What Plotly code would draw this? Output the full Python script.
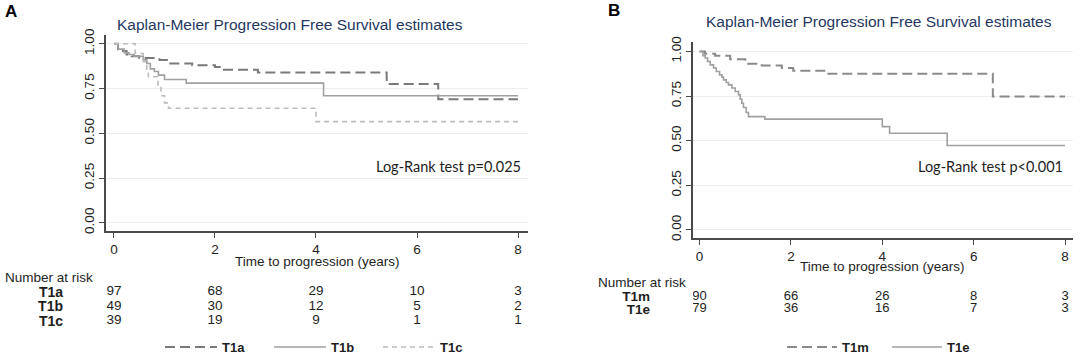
import plotly.graph_objects as go

# ---------------- Panel A data (Kaplan-Meier steps) ----------------
a_time_t1a = [0, 0.08, 0.15, 0.25, 0.35, 0.5, 0.9, 1.05, 1.55, 2.0, 2.15, 2.85, 5.4, 6.42, 8.0]
a_surv_t1a = [1.0, 0.97, 0.96, 0.94, 0.93, 0.92, 0.91, 0.89, 0.88, 0.87, 0.855, 0.84, 0.775, 0.69, 0.69]

a_time_t1b = [0, 0.08, 0.2, 0.3, 0.4, 0.58, 0.65, 0.72, 0.8, 0.88, 1.0, 1.43, 4.15, 8.0]
a_surv_t1b = [1.0, 0.97, 0.95, 0.94, 0.93, 0.91, 0.89, 0.86, 0.845, 0.825, 0.80, 0.78, 0.71, 0.71]

a_time_t1c = [0, 0.42, 0.58, 0.65, 0.68, 0.87, 0.93, 1.0, 1.08, 4.0, 8.0]
a_surv_t1c = [1.0, 0.946, 0.90, 0.853, 0.816, 0.76, 0.71, 0.67, 0.64, 0.565, 0.565]

# ---------------- Panel B data ----------------
b_time_t1m = [0, 0.12, 0.34, 0.67, 1.0, 1.36, 1.8, 2.05, 2.78, 6.42, 8.0]
b_surv_t1m = [1.0, 0.987, 0.976, 0.957, 0.931, 0.922, 0.907, 0.892, 0.875, 0.748, 0.748]

b_time_t1e = [0, 0.074, 0.124, 0.175, 0.234, 0.306, 0.365, 0.437, 0.489, 0.524, 0.583, 0.633,
              0.707, 0.78, 0.852, 0.889, 0.925, 0.961, 1.02, 1.07, 1.43, 4.0, 4.16, 5.42, 8.0]
b_surv_t1e = [1.0, 0.976, 0.963, 0.944, 0.925, 0.907, 0.888, 0.869, 0.856, 0.841, 0.826, 0.813,
              0.795, 0.776, 0.757, 0.733, 0.71, 0.686, 0.658, 0.635, 0.621, 0.579, 0.542, 0.473, 0.473]

# ---------------- Number at risk ----------------
risk_times = [0, 2, 4, 6, 8]
a_groups = ["T1a", "T1b", "T1c"]
a_risk_t1a = [97, 68, 29, 10, 3]
a_risk_t1b = [49, 30, 12, 5, 2]
a_risk_t1c = [39, 19, 9, 1, 1]
b_groups = ["T1m", "T1e"]
b_risk_t1m = [90, 66, 26, 8, 3]
b_risk_t1e = [79, 36, 16, 7, 3]

x_ticks = [0, 2, 4, 6, 8]
y_ticks = [0, 0.25, 0.5, 0.75, 1.0]
y_ticktext = ["0.00", "0.25", "0.50", "0.75", "1.00"]

title_text = "Kaplan-Meier Progression Free Survival estimates"
xtitle_text = "Time to progression (years)"

W, H = 1084, 358
def px(x):
    return x / W
def py(y):
    return 1 - y / H

AX = "#4a4a4a"
TXT = "#1e1e1e"
FONT = "Liberation Sans, Arial, sans-serif"

fig = go.Figure()

def km(x, y, name, color, dash, width, xa, ya, legend):
    fig.add_trace(go.Scatter(x=x, y=y, mode="lines", line_shape="hv", name=name,
                             line=dict(color=color, dash=dash, width=width),
                             xaxis=xa, yaxis=ya, legend=legend))

km(a_time_t1a, a_surv_t1a, "T1a", "#7a7a7a", "10px,5px", 2, "x", "y", "legend")
km(a_time_t1b, a_surv_t1b, "T1b", "#a0a0a0", "solid", 1.6, "x", "y", "legend")
km(a_time_t1c, a_surv_t1c, "T1c", "#bdbdbd", "5px,4px", 1.6, "x", "y", "legend")
km(b_time_t1m, b_surv_t1m, "T1m", "#8a8a8a", "10px,5px", 2, "x2", "y2", "legend2")
km(b_time_t1e, b_surv_t1e, "T1e", "#a0a0a0", "solid", 1.6, "x2", "y2", "legend2")

def risk(vals, grp, xa, ya, size):
    fig.add_trace(go.Scatter(x=risk_times, y=[grp] * len(vals), text=[str(v) for v in vals],
                             mode="text", textposition="middle center",
                             textfont=dict(size=size, color=TXT, family=FONT),
                             showlegend=False, xaxis=xa, yaxis=ya, hoverinfo="skip"))

risk(a_risk_t1a, "T1a", "x3", "y3", 13.5)
risk(a_risk_t1b, "T1b", "x3", "y3", 13.5)
risk(a_risk_t1c, "T1c", "x3", "y3", 13.5)
risk(b_risk_t1m, "T1m", "x4", "y4", 13)
risk(b_risk_t1e, "T1e", "x4", "y4", 13)

# ---- geometry (pixels) ----
a_dom_x = [px(106), px(528)]
a_rng_x = [-0.158, 8.198]
a_dom_y = [py(231), py(35)]
a_rng_y = [-0.046, 1.049]

b_dom_x = [px(693), px(1073)]
b_rng_x = [-0.144, 8.175]
b_dom_y = [py(238), py(42)]
b_rng_y = [-0.045, 1.053]

def main_x(dom, rng, anchor):
    return dict(domain=dom, range=rng, anchor=anchor, tickmode="array", tickvals=x_ticks,
                ticks="outside", ticklen=5, tickwidth=1.3, tickcolor=AX, automargin=False,
                showline=True, linecolor=AX, linewidth=1.6, showgrid=False, zeroline=False,
                tickfont=dict(size=13.5, color=TXT, family=FONT))

def main_y(dom, rng, anchor):
    return dict(domain=dom, range=rng, anchor=anchor, tickmode="array",
                tickvals=y_ticks, ticktext=y_ticktext, automargin=False,
                tickangle=-90, ticks="outside", ticklen=5, tickwidth=1.3, tickcolor=AX,
                showline=True, linecolor=AX, linewidth=1.6, showgrid=True,
                gridcolor="#eeeeee", gridwidth=1, zeroline=False,
                tickfont=dict(size=13.5, color=TXT, family=FONT))

def table_x(dom, rng, anchor):
    return dict(domain=dom, range=rng, anchor=anchor, visible=False, automargin=False)

def table_y(dom, cats, anchor, standoff, size):
    n = len(cats)
    return dict(domain=dom, anchor=anchor, type="category", categoryorder="array",
                categoryarray=list(reversed(cats)), range=[-0.5, n - 0.5],
                tickmode="array", tickvals=cats, ticktext=cats, automargin=False,
                showline=False, showgrid=False, zeroline=False, ticks="",
                ticklabelstandoff=standoff,
                tickfont=dict(size=size, color=TXT, family=FONT, weight="bold"))

a_row = 14.5
a_mid = 306.5
b_row = 12.3
b_mid = 302.9

fig.update_layout(
    template="none",
    width=W, height=H, margin=dict(l=0, r=0, t=0, b=0, autoexpand=False),
    paper_bgcolor="white", plot_bgcolor="white",
    font=dict(family=FONT, color=TXT),
    xaxis=main_x(a_dom_x, a_rng_x, "y"),
    yaxis=main_y(a_dom_y, a_rng_y, "x"),
    xaxis2=main_x(b_dom_x, b_rng_x, "y2"),
    yaxis2=main_y(b_dom_y, b_rng_y, "x2"),
    xaxis3=table_x(a_dom_x, a_rng_x, "y3"),
    yaxis3=table_y([py(a_mid + 1.5 * a_row), py(a_mid - 1.5 * a_row)], a_groups, "x3", 42, 14),
    xaxis4=table_x(b_dom_x, b_rng_x, "y4"),
    yaxis4=table_y([py(b_mid + b_row), py(b_mid - b_row)], b_groups, "x4", 42, 13.5),
    legend=dict(orientation="h", x=px(160), y=py(347), xanchor="left", yanchor="middle",
                font=dict(size=13, color=TXT, family=FONT, weight="bold"),
                itemwidth=52, entrywidth=42, bgcolor="rgba(0,0,0,0)", borderwidth=0),
    legend2=dict(orientation="h", x=px(782), y=py(347), xanchor="left", yanchor="middle",
                 font=dict(size=13, color=TXT, family=FONT, weight="bold"),
                 itemwidth=50, entrywidth=40, bgcolor="rgba(0,0,0,0)", borderwidth=0),
    showlegend=True,
)

ann = [
    dict(text="A", x=px(3), y=py(11), xanchor="left", yanchor="middle",
         font=dict(size=17, color="#000", family=FONT, weight="bold")),
    dict(text="B", x=px(606), y=py(10), xanchor="left", yanchor="middle",
         font=dict(size=17, color="#000", family=FONT, weight="bold")),
    dict(text=title_text, x=px(290), y=py(24), xanchor="center", yanchor="middle",
         font=dict(size=15.5, color="#26375f", family=FONT)),
    dict(text=title_text, x=px(879), y=py(21.5), xanchor="center", yanchor="middle",
         font=dict(size=15.5, color="#26375f", family=FONT)),
    dict(text="Log-Rank test p=0.025", x=px(523), y=py(167), xanchor="right", yanchor="middle",
         font=dict(size=14.5, color=TXT, family="Lato, Open Sans, sans-serif")),
    dict(text="Log-Rank test p<0.001", x=px(1065), y=py(167), xanchor="right", yanchor="middle",
         font=dict(size=14.5, color=TXT, family="Lato, Open Sans, sans-serif")),
    dict(text="Number at risk", x=px(3), y=py(277), xanchor="left", yanchor="middle",
         font=dict(size=13.5, color=TXT, family=FONT)),
    dict(text="Number at risk", x=px(596), y=py(282), xanchor="left", yanchor="middle",
         font=dict(size=13.5, color=TXT, family=FONT)),
]
for a in ann:
    a.update(xref="paper", yref="paper", showarrow=False)
# axis titles placed relative to each x axis domain
ann.append(dict(text=xtitle_text, xref="x domain", x=0.5, yref="paper", y=py(261),
                xanchor="center", yanchor="middle", showarrow=False,
                font=dict(size=13.5, color=TXT, family=FONT)))
ann.append(dict(text=xtitle_text, xref="x2 domain", x=0.5, yref="paper", y=py(266),
                xanchor="center", yanchor="middle", showarrow=False,
                font=dict(size=13.5, color=TXT, family=FONT)))
fig.update_layout(annotations=ann)

fig.write_html("out.html", config={"displayModeBar": False},
               post_script="document.body.style.margin='0px';document.body.style.overflow='hidden';")
